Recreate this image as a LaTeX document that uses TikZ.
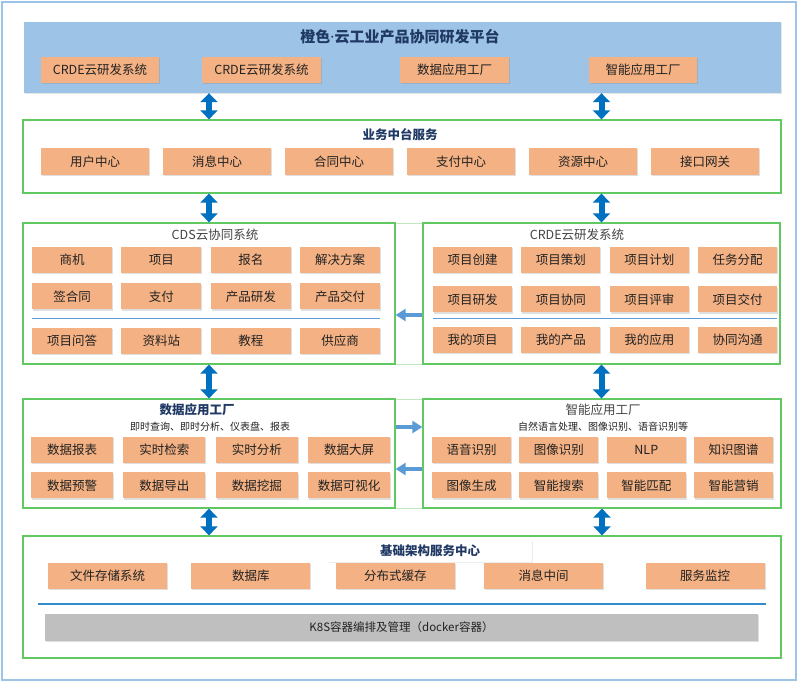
\documentclass[tikz,border=0pt]{standalone}
\usepackage{fontspec}
\setmainfont{Noto Sans CJK SC}
\newfontfamily\latinfont{Noto Sans}
\usepackage{tikz}
\usetikzlibrary{arrows.meta,positioning,shadows}
\usepackage{xcolor}
\definecolor{Peach}{HTML}{F4B183}
\definecolor{Sky}{HTML}{9DC3E6}
\definecolor{Leaf}{HTML}{62C862}
\definecolor{Navy}{HTML}{1F3864}
\definecolor{Ocean}{HTML}{0070C0}
\definecolor{Steel}{HTML}{5B9BD5}
\definecolor{Ink}{HTML}{222222}
\definecolor{Ash}{HTML}{BFBFBF}
\tikzset{
  modbox/.style={fill=Peach, minimum width=#1, minimum height=26pt, inner sep=0pt,
    font=\fontsize{12.5}{14}\selectfont, text=Ink,
    drop shadow={shadow xshift=1pt, shadow yshift=-1.2pt, opacity=.25}},
  modbox/.default={80pt},
  zone/.style={draw=Leaf, line width=1.3pt, inner sep=0pt},
  ztitle/.style={font=\bfseries\fontsize{12.5}{14}\selectfont, text=#1, inner sep=1pt},
  ztitle/.default={Navy},
  zsub/.style={font=\fontsize{10}{12}\selectfont, text=Ink, inner sep=1pt},
  sepline/.style={draw=Steel, line width=1.2pt},
  dblarr/.style={{Triangle[width=17pt,length=9pt]}-{Triangle[width=17pt,length=9pt]},
    line width=6pt, draw=Ocean},
  thinarr/.style={-{Triangle[width=12pt,length=10pt]}, line width=3.5pt, draw=Steel},
}
\begin{document}
\begin{tikzpicture}[x=1pt,y=-1pt]
  \useasboundingbox (0,0) rectangle (798,682);
  \node[draw=Sky, line width=1.5pt, minimum width=794pt, minimum height=678pt] (frame) at (399,341) {};

  % platform banner
  \node[fill=Sky, minimum width=757pt, minimum height=71pt,
    drop shadow={shadow xshift=1pt, shadow yshift=-1.5pt, opacity=.2}] (plat) at (402.5,57.5) {};
  \node[font=\bfseries\fontsize{15}{18}\selectfont, text=Navy] (platT) at (400,37) {橙色{\latinfont\bfseries·}云工业产品协同研发平台};
  \node[modbox=118pt] (p1) at (100,70) {CRDE云研发系统};
  \node[modbox=119pt] (p2) at (261.5,70) {CRDE云研发系统};
  \node[modbox=109pt] (p3) at (454.5,70) {数据应用工厂};
  \node[modbox=108pt] (p4) at (643,70) {智能应用工厂};

  % business middle platform
  \node[zone, minimum width=758pt, minimum height=73pt] (biz) at (402,156.5) {};
  \node[ztitle] (bizT) at (400,135) {业务中台服务};
  \node[modbox=108pt, minimum height=27pt] (b1) at (95,161.5) {用户中心};
  \node[modbox=108pt, minimum height=27pt, right=13.6pt of b1] (b2) {消息中心};
  \node[modbox=108pt, minimum height=27pt, right=13.6pt of b2] (b3) {合同中心};
  \node[modbox=108pt, minimum height=27pt, right=13.6pt of b3] (b4) {支付中心};
  \node[modbox=108pt, minimum height=27pt, right=13.6pt of b4] (b5) {资源中心};
  \node[modbox=108pt, minimum height=27pt, right=13.6pt of b5] (b6) {接口网关};

  % CDS and CRDE
  \draw[draw=Leaf!40, line width=1pt] (23,223) rectangle (780,364);
  \node[zone, fill=white, minimum width=372pt, minimum height=141pt] (cds) at (209,293.5) {};
  \node[zone, fill=white, minimum width=357pt, minimum height=141pt] (crde) at (601.5,293.5) {};
  \node[ztitle=Ink!85, font=\fontsize{12.5}{14}\selectfont] (cdsT) at (215,235) {CDS云协同系统};
  \node[ztitle=Ink!85, font=\fontsize{12.5}{14}\selectfont] (crdeT) at (577,235) {CRDE云研发系统};

  \node[modbox] (c1) at (72,260) {商机};
  \node[modbox, right=9pt of c1] (c2) {项目};
  \node[modbox, right=9pt of c2] (c3) {报名};
  \node[modbox, right=9pt of c3] (c4) {解决方案};
  \node[modbox, below=10pt of c1] (c5) {签合同};
  \node[modbox, right=9pt of c5] (c6) {支付};
  \node[modbox, right=9pt of c6] (c7) {产品研发};
  \node[modbox, right=9pt of c7] (c8) {产品交付};
  \node[modbox, below=18pt of c5] (c9) {项目问答};
  \node[modbox, right=9pt of c9] (c10) {资料站};
  \node[modbox, right=9pt of c10] (c11) {教程};
  \node[modbox, right=9pt of c11] (c12) {供应商};
  \draw[sepline] ([yshift=-9pt]c5.south west) -- ([yshift=-9pt]c8.south east);

  \node[modbox=79pt] (r1) at (472.5,260) {项目创建};
  \node[modbox=79pt, right=9pt of r1] (r2) {项目策划};
  \node[modbox=79pt, right=9pt of r2] (r3) {项目计划};
  \node[modbox=79pt, right=9pt of r3] (r4) {任务分配};
  \node[modbox=79pt, below=13pt of r1] (r5) {项目研发};
  \node[modbox=79pt, right=9pt of r5] (r6) {项目协同};
  \node[modbox=79pt, right=9pt of r6] (r7) {项目评审};
  \node[modbox=79pt, right=9pt of r7] (r8) {项目交付};
  \node[modbox=79pt, below=14pt of r5] (r9) {我的项目};
  \node[modbox=79pt, right=9pt of r9] (r10) {我的产品};
  \node[modbox=79pt, right=9pt of r10] (r11) {我的应用};
  \node[modbox=79pt, right=9pt of r11] (r12) {协同沟通};
  \draw[sepline] ([yshift=-6pt]r5.south west) -- ([yshift=-6pt]r8.south east);

  % data and smart factories
  \draw[draw=Leaf!40, line width=1pt] (23,399) rectangle (781,508);
  \node[zone, fill=white, minimum width=372pt, minimum height=109pt] (data) at (209,453.5) {};
  \node[zone, fill=white, minimum width=358pt, minimum height=109pt] (smart) at (602,453.5) {};
  \node[ztitle] (dataT) at (197,410) {数据应用工厂};
  \node[zsub] (dataS) at (210,427) {即时查询、即时分析、仪表盘、报表};
  \node[ztitle=Ink!85, font=\fontsize{12.5}{14}\selectfont] (smartT) at (603,410) {智能应用工厂};
  \node[zsub] (smartS) at (603,427) {自然语言处理、图像识别、语音识别等};

  \node[modbox=82pt] (d1) at (72,450) {数据报表};
  \node[modbox=82pt, right=10pt of d1] (d2) {实时检索};
  \node[modbox=82pt, right=10pt of d2] (d3) {实时分析};
  \node[modbox=82pt, right=10pt of d3] (d4) {数据大屏};
  \node[modbox=82pt, below=9pt of d1] (d5) {数据预警};
  \node[modbox=82pt, right=10pt of d5] (d6) {数据导出};
  \node[modbox=82pt, right=10pt of d6] (d7) {数据挖掘};
  \node[modbox=82pt, right=10pt of d7] (d8) {数据可视化};

  \node[modbox=79pt] (s1) at (471.5,450) {语音识别};
  \node[modbox=79pt, right=8pt of s1] (s2) {图像识别};
  \node[modbox=79pt, right=8pt of s2] (s3) {NLP};
  \node[modbox=79pt, right=8pt of s3] (s4) {知识图谱};
  \node[modbox=79pt, below=9pt of s1] (s5) {图像生成};
  \node[modbox=79pt, right=8pt of s5] (s6) {智能搜索};
  \node[modbox=79pt, right=8pt of s6] (s7) {智能匹配};
  \node[modbox=79pt, right=8pt of s7] (s8) {智能营销};

  % infrastructure
  \node[zone, minimum width=758pt, minimum height=122pt] (base) at (402,597) {};
  \node[ztitle, fill=white, minimum width=204pt, minimum height=22pt,
    drop shadow={shadow xshift=1pt, shadow yshift=-1pt, opacity=.15}] (baseT) at (430,551) {基础架构服务中心};
  \node[modbox=119pt] (i1) at (107.5,576) {文件存储系统};
  \node[modbox=119pt, right=24pt of i1] (i2) {数据库};
  \node[modbox=119pt, right=25pt of i2] (i3) {分布式缓存};
  \node[modbox=119pt, right=29pt of i3] (i4) {消息中间};
  \node[modbox=119pt, right=42pt of i4] (i5) {服务监控};
  \coordinate (ruleL) at (38,604);
  \coordinate (ruleR) at (766,604);
  \draw[draw=Ocean!80, line width=2pt] (ruleL) -- (ruleR);
  \node[modbox=713pt, fill=Ash, minimum height=27pt, font=\fontsize{11.5}{14}\selectfont] (k8s) at (401.5,627.5) {K8S容器编排及管理（docker容器）};

  % links
  \draw[dblarr] (plat.south -| cds.north) -- (biz.north -| cds.north);
  \draw[dblarr] (plat.south -| crde.north) -- (biz.north -| crde.north);
  \draw[dblarr] (biz.south -| cds.north) -- (cds.north);
  \draw[dblarr] (biz.south -| crde.north) -- (crde.north);
  \draw[dblarr] (cds.south) -- (data.north -| cds.south);
  \draw[dblarr] (crde.south) -- (smart.north -| crde.south);
  \draw[dblarr] (data.south) -- (base.north -| data.south);
  \draw[dblarr] (smart.south) -- (base.north -| smart.south);
  \draw[thinarr] ([yshift=-21.5pt]crde.west) -- ([yshift=-21.5pt]cds.east);
  \draw[thinarr] ([yshift=26.5pt]data.east) -- ([yshift=26.5pt]smart.west);
  \draw[thinarr] ([yshift=-15.5pt]smart.west) -- ([yshift=-15.5pt]data.east);
\end{tikzpicture}
\end{document}
